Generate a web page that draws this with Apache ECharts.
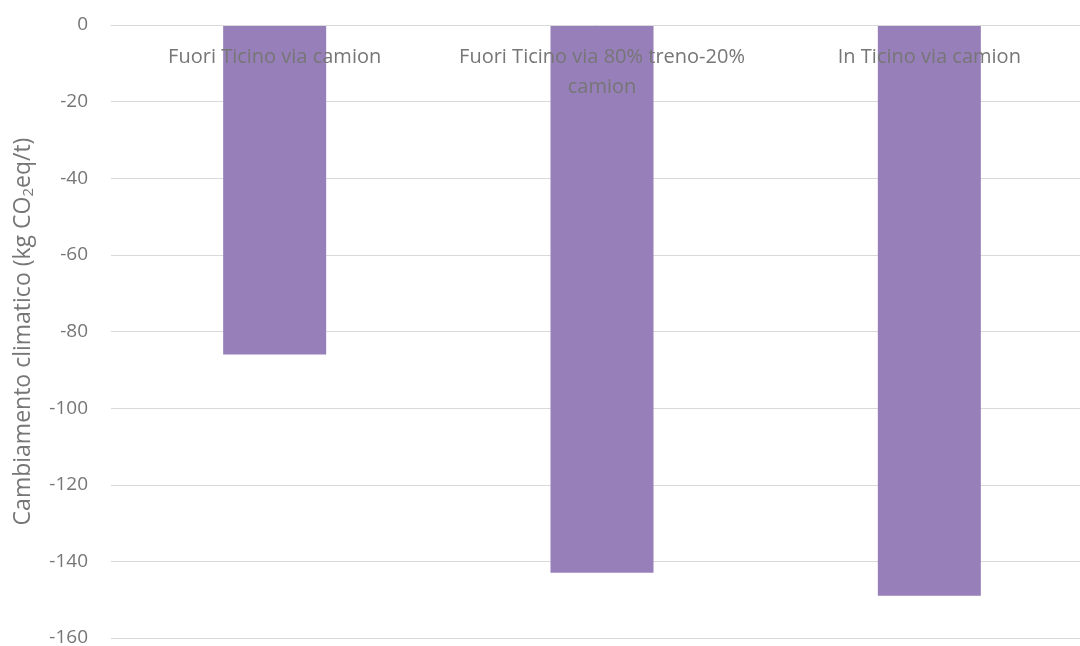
<!DOCTYPE html>
<html>
<head>
<meta charset="utf-8">
<script src="https://cdn.jsdelivr.net/npm/echarts@6/dist/echarts.min.js"></script>
<style>html,body{margin:0;padding:0;background:#fff}#c{width:1080px;height:646px}</style>
</head>
<body>
<div id="c"></div>
<script>
const categories = ["Fuori Ticino via camion", "Fuori Ticino via 80% treno-20%\ncamion", "In Ticino via camion"];
const values = [-86, -143, -149];
const yTicks = { min: -160, max: 0, interval: 20 };

const chart = echarts.init(document.getElementById('c'));
const font = '"Open Sans", sans-serif';
chart.setOption({
  animation: false,
  grid: { left: 111, right: -13, top: 25, bottom: 8, containLabel: false, outerBoundsMode: 'none' },
  xAxis: {
    type: 'category',
    data: categories,
    position: 'top',
    z: 10,
    axisLine: { show: true, onZero: false, lineStyle: { color: '#d9d9d9', width: 1 } },
    axisTick: { show: false },
    axisLabel: { inside: true, color: '#767676', fontSize: 20, fontFamily: font, margin: 17, lineHeight: 30, interval: 0 }
  },
  yAxis: {
    type: 'value',
    min: yTicks.min, max: yTicks.max, interval: yTicks.interval,
    name: '{a|Cambiamento climatico (kg CO}{s|2}{a|eq/t)}',
    nameLocation: 'middle',
    nameRotate: 90,
    nameGap: 75,
    nameTextStyle: {
      rich: {
        a: { color: '#767676', fontSize: 23, fontFamily: font },
        s: { color: '#767676', fontSize: 15, fontFamily: font, verticalAlign: 'bottom', padding: [10, 0, 0, 0] }
      }
    },
    axisLine: { show: false },
    axisTick: { show: false },
    splitLine: { lineStyle: { color: '#d9d9d9', width: 1 } },
    axisLabel: { color: '#767676', fontSize: 19, fontFamily: font, margin: 23 }
  },
  series: [{
    type: 'bar',
    data: values,
    barWidth: 103,
    itemStyle: { color: '#977fb9' }
  }]
});
</script>
</body>
</html>
